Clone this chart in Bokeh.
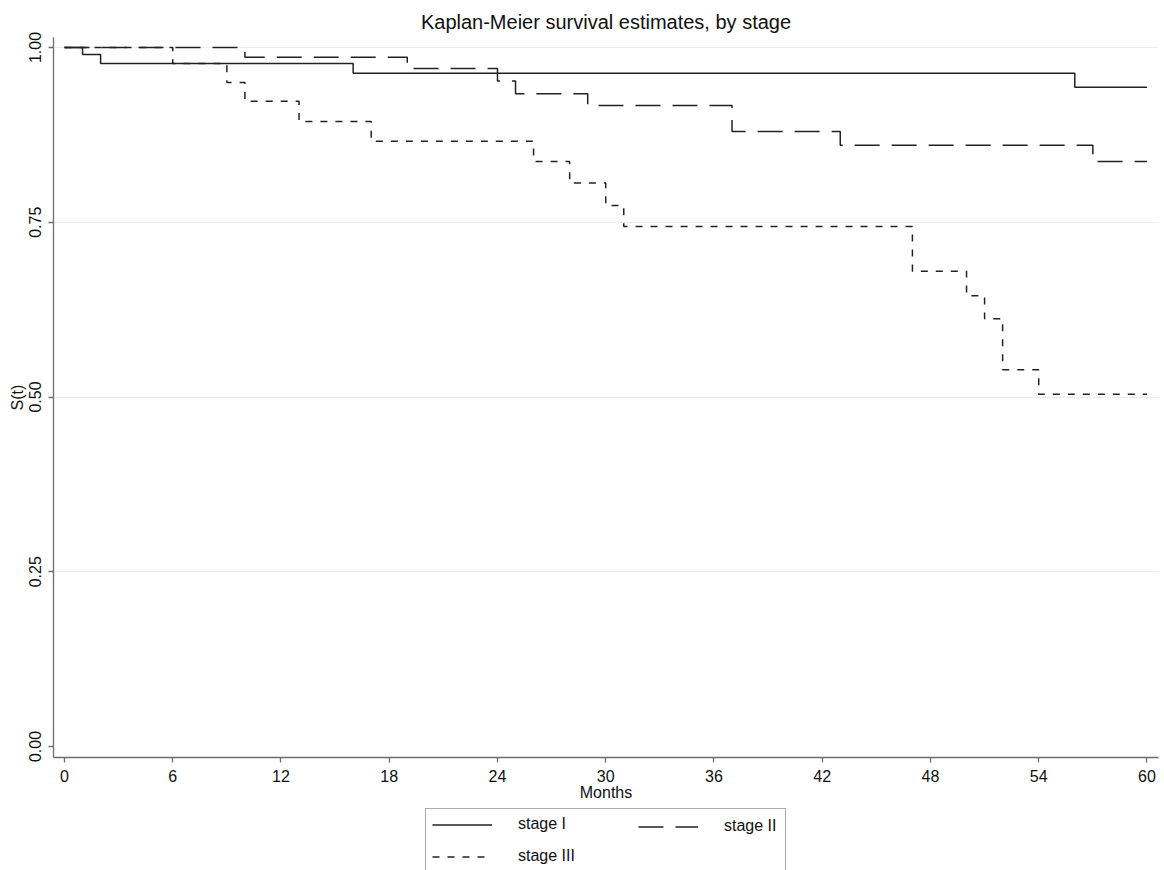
from bokeh.plotting import figure
from bokeh.layouts import column
from bokeh.models import Legend, LegendItem, FixedTicker, Range1d, PrintfTickFormatter
from bokeh.embed import file_html
from bokeh.resources import INLINE

# ---- data ----
stage1_t = [0, 1, 2, 16, 56, 60]
stage1_s = [1.0, 0.990, 0.977, 0.963, 0.943, 0.943]

stage2_t = [0, 10, 19, 24, 25, 29, 37, 43, 57, 60]
stage2_s = [1.0, 0.986, 0.970, 0.952, 0.934, 0.917, 0.880, 0.860, 0.837, 0.837]

stage3_t = [0, 6, 9, 10, 13, 17, 26, 28, 30, 31, 47, 50, 51, 52, 54, 60]
stage3_s = [1.0, 0.977, 0.950, 0.923, 0.894, 0.866, 0.837, 0.806, 0.774, 0.744,
            0.680, 0.645, 0.612, 0.539, 0.504, 0.504]

x_ticks = [0, 6, 12, 18, 24, 30, 36, 42, 48, 54, 60]
y_ticks = [0.0, 0.25, 0.50, 0.75, 1.0]
grid_ticks = [0.25, 0.50, 0.75, 1.0]
labels = ["stage I", "stage II", "stage III"]

FONT = "Liberation Sans"
TXT = "#111111"
AX = "#6e6e6e"
LINE = "#222222"
STYLES = [dict(line_color=LINE, line_width=1.5),
          dict(line_color=LINE, line_width=1.5, line_dash="25 12"),
          dict(line_color=LINE, line_width=1.5, line_dash="7 8")]

p = figure(frame_width=1105, frame_height=720,
           x_range=Range1d(-0.61, 60.64), y_range=Range1d(-0.0157, 1.0143),
           output_backend="svg", toolbar_location=None,
           min_border_left=53, min_border_right=6, min_border_top=37,
           min_border_bottom=51,
           title="Kaplan-Meier survival estimates, by stage")
p.outline_line_color = None
p.background_fill_color = "white"
p.border_fill_color = "white"

p.title.align = "center"
p.title.text_font = FONT
p.title.text_font_size = "20px"
p.title.text_font_style = "normal"
p.title.text_color = TXT
p.title.standoff = 9

p.step(stage1_t, stage1_s, mode="after", **STYLES[0])
p.step(stage2_t, stage2_s, mode="after", **STYLES[1])
p.step(stage3_t, stage3_s, mode="after", **STYLES[2])

for ax in (p.xaxis[0], p.yaxis[0]):
    ax.axis_line_color = AX
    ax.axis_line_width = 1.3
    ax.major_tick_line_color = AX
    ax.major_tick_line_width = 1.3
    ax.major_tick_out = 5
    ax.major_tick_in = 0
    ax.minor_tick_line_color = None
    ax.major_label_text_font = FONT
    ax.major_label_text_font_size = "16px"
    ax.major_label_text_color = TXT
    ax.axis_label_text_font = FONT
    ax.axis_label_text_font_size = "16px"
    ax.axis_label_text_font_style = "normal"
    ax.axis_label_text_color = TXT

p.xaxis.ticker = FixedTicker(ticks=x_ticks)
p.xaxis.axis_label = "Months"
p.xaxis.major_label_standoff = 7
p.xaxis.axis_label_standoff = -1

p.yaxis.ticker = FixedTicker(ticks=y_ticks)
p.yaxis.formatter = PrintfTickFormatter(format="%.2f")
p.yaxis.major_label_orientation = "vertical"
p.yaxis.axis_label = "S(t)"
p.yaxis.major_label_standoff = 7
p.yaxis.axis_label_standoff = 1

p.xgrid.visible = False
p.ygrid.ticker = FixedTicker(ticks=grid_ticks)
p.ygrid.grid_line_color = "#ececec"
p.ygrid.grid_line_width = 1

# ---- legend strip below the chart ----
# (its ranges exclude the data, so the key renderers draw nothing in the area)
lf = figure(width=1164, height=62, x_range=Range1d(-3, -2), y_range=Range1d(-3, -2),
            output_backend="svg", toolbar_location=None,
            x_axis_type=None, y_axis_type=None,
            min_border_left=0, min_border_right=0, min_border_top=0,
            min_border_bottom=0)
lf.outline_line_color = None
lf.xgrid.visible = False
lf.ygrid.visible = False
lf.background_fill_color = "white"
lf.border_fill_color = "white"

k1 = lf.step(stage1_t, stage1_s, mode="after", **STYLES[0])
k2 = lf.step(stage2_t, stage2_s, mode="after", **STYLES[1])
k3 = lf.step(stage3_t, stage3_s, mode="after", **STYLES[2])


def style_legend(lg):
    lg.glyph_width = 60
    lg.glyph_height = 17
    lg.label_height = 17
    lg.label_standoff = 26
    lg.spacing = 14
    lg.padding = 6
    lg.margin = 0
    lg.label_text_font = FONT
    lg.label_text_font_size = "16px"
    lg.label_text_color = TXT


leg1 = Legend(items=[LegendItem(label=labels[0], renderers=[k1]),
                     LegendItem(label=labels[2], renderers=[k3])],
              orientation="vertical", location=(372, -2))
style_legend(leg1)
leg1.label_width = 261
leg1.border_line_color = "#555555"
leg1.border_line_width = 1.5
leg1.background_fill_color = "white"
lf.add_layout(leg1, "center")

leg2 = Legend(items=[LegendItem(label=labels[1], renderers=[k2])],
              orientation="vertical", location=(585, 35))
style_legend(leg2)
leg2.border_line_color = None
leg2.background_fill_alpha = 0
lf.add_layout(leg2, "center")

layout = column(p, lf, spacing=0)
open("out.html", "w").write(file_html(layout, INLINE))
